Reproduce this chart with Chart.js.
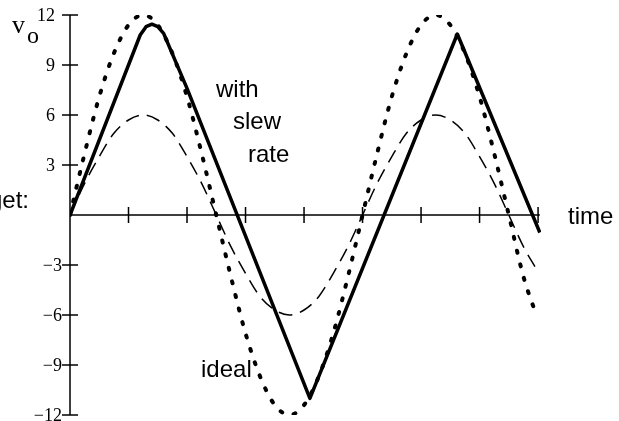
<!DOCTYPE html>
<html>
<head>
<meta charset="utf-8">
<script src="https://cdn.jsdelivr.net/npm/chart.js@4/dist/chart.umd.min.js"></script>
<style>
  html, body { margin: 0; padding: 0; background: #fff; overflow: hidden; }
  #wrap { width: 619px; height: 421px; overflow: hidden; }
</style>
</head>
<body>
<div id="wrap"><canvas id="slew" width="619" height="431"></canvas></div>
<script>
// sample times (in x-tick units) for the two sine curves
const sineTimes = [0, 0.25, 0.5, 0.75, 1, 1.25, 1.5, 1.75, 2, 2.25, 2.5, 2.75, 3, 3.25, 3.5, 3.75,
  4, 4.25, 4.5, 4.75, 5, 5.25, 5.5, 5.75, 6, 6.25, 6.5, 6.75, 7, 7.25, 7.5, 7.75, 7.98];
// ideal output (dotted)
const idealValues = [0, 3.7, 7.1, 9.7, 11.4, 12, 11.4, 9.7, 7.1, 3.7, 0, -3.7, -7.1, -9.7, -11.4, -12,
  -11.4, -9.7, -7.1, -3.7, 0, 3.7, 7.1, 9.7, 11.4, 12, 11.4, 9.7, 7.1, 3.7, 0, -3.7, -6.1];
// smaller amplitude sine (dashed)
const smallValues = [0, 1.9, 3.5, 4.9, 5.7, 6, 5.7, 4.9, 3.5, 1.9, 0, -1.9, -3.5, -4.9, -5.7, -6,
  -5.7, -4.9, -3.5, -1.9, 0, 1.9, 3.5, 4.9, 5.7, 6, 5.7, 4.9, 3.5, 1.9, 0, -1.9, -3.3];
// slew-rate limited output (solid)
const slewTimes = [0, 1.2, 1.3, 1.4, 1.5, 1.6, 2.0, 4.1, 6.62, 8.03];
const slewValues = [0, 10.8, 11.3, 11.45, 11.3, 10.9, 7.6, -11.0, 10.86, -1.05];

const xTicks = [1, 2, 3, 4, 5, 6, 7, 8];
const yTicks = [12, 9, 6, 3, -3, -6, -9, -12];
const yTickLabels = ['12', '9', '6', '3', '\u22123', '\u22126', '\u22129', '\u221212'];

const SERIF = '"Liberation Serif", "Times New Roman", serif';
const SANS = '"Liberation Sans", Arial, sans-serif';

function pts(xs, ys) {
  return xs.map((x, i) => ({ x: x, y: ys[i] }));
}

// axes through the origin with cross-shaped tick marks
const crossAxes = {
  id: 'crossAxes',
  beforeDatasetsDraw(chart) {
    const { ctx, scales: { x, y } } = chart;
    const x0 = x.getPixelForValue(0);
    const y0 = y.getPixelForValue(0);
    ctx.save();
    ctx.strokeStyle = '#000';
    ctx.lineWidth = 1.5;
    ctx.beginPath();
    ctx.moveTo(x0, y.getPixelForValue(12));
    ctx.lineTo(x0, y.getPixelForValue(-12));
    ctx.moveTo(x0, y0);
    ctx.lineTo(x.getPixelForValue(8.03), y0);
    xTicks.forEach(t => {
      const px = x.getPixelForValue(t);
      ctx.moveTo(px, y0 - 8);
      ctx.lineTo(px, y0 + 8);
    });
    yTicks.forEach(v => {
      const py = y.getPixelForValue(v);
      ctx.moveTo(x0 - 8, py);
      ctx.lineTo(x0 + 8, py);
    });
    ctx.stroke();

    ctx.fillStyle = '#000';
    ctx.font = '18px ' + SERIF;
    ctx.textAlign = 'right';
    ctx.textBaseline = 'middle';
    yTicks.forEach((v, i) => {
      const right = v < 0 ? x0 - 8 : x0 - 15;
      ctx.fillText(yTickLabels[i], right, y.getPixelForValue(v) + 1);
    });
    ctx.restore();
  },
  afterDraw(chart) {
    const ctx = chart.ctx;
    ctx.save();
    ctx.fillStyle = '#000';
    ctx.textAlign = 'left';
    ctx.textBaseline = 'alphabetic';
    ctx.font = '26px ' + SERIF;
    ctx.fillText('v', 12, 33);
    ctx.font = '24px ' + SERIF;
    ctx.fillText('o', 27, 43);
    ctx.font = '24px ' + SANS;
    ctx.fillText('get:', -11, 208);
    ctx.fillText('with', 216, 97);
    ctx.fillText('slew', 233, 129);
    ctx.fillText('rate', 248, 162);
    ctx.fillText('time', 568, 224);
    ctx.fillText('ideal', 201, 377);
    ctx.restore();
  }
};

new Chart(document.getElementById('slew'), {
  type: 'line',
  data: {
    datasets: [
      {
        label: 'ideal',
        data: pts(sineTimes, idealValues),
        borderColor: '#000',
        borderWidth: 4,
        borderDash: [2, 12],
        borderCapStyle: 'round',
        cubicInterpolationMode: 'monotone',
        pointRadius: 0,
        fill: false
      },
      {
        label: 'small',
        data: pts(sineTimes, smallValues),
        borderColor: '#000',
        borderWidth: 1.5,
        borderDash: [14, 8],
        cubicInterpolationMode: 'monotone',
        pointRadius: 0,
        fill: false
      },
      {
        label: 'with slew rate',
        data: pts(slewTimes, slewValues),
        borderColor: '#000',
        borderWidth: 3.5,
        borderJoinStyle: 'round',
        tension: 0,
        pointRadius: 0,
        fill: false
      }
    ]
  },
  options: {
    responsive: false,
    animation: false,
    devicePixelRatio: 1,
    layout: { padding: { left: 70, right: 78, top: 15, bottom: 16 } },
    plugins: { legend: { display: false }, tooltip: { enabled: false } },
    scales: {
      x: { type: 'linear', min: 0, max: 8.05, display: false },
      y: { type: 'linear', min: -12, max: 12, display: false }
    }
  },
  plugins: [crossAxes]
});
</script>
</body>
</html>
